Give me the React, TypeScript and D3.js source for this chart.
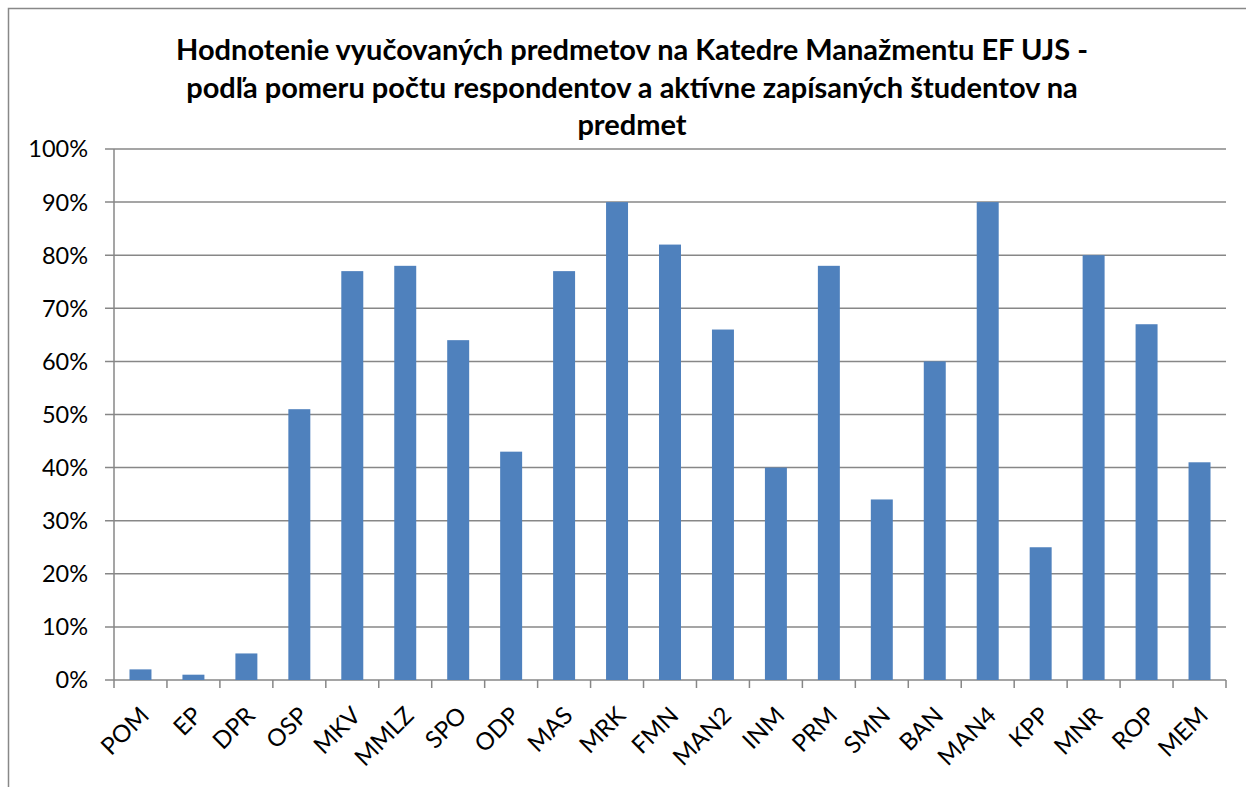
import * as d3 from 'd3';

const categories = ['POM', 'EP', 'DPR', 'OSP', 'MKV', 'MMLZ', 'SPO', 'ODP', 'MAS', 'MRK', 'FMN', 'MAN2', 'INM', 'PRM', 'SMN', 'BAN', 'MAN4', 'KPP', 'MNR', 'ROP', 'MEM'];
const values = [2, 1, 5, 51, 77, 78, 64, 43, 77, 90, 82, 66, 40, 78, 34, 60, 90, 25, 80, 67, 41];
const yTicks = [0, 10, 20, 30, 40, 50, 60, 70, 80, 90, 100];
const titleLines = [
  'Hodnotenie vyučovaných predmetov na Katedre Manažmentu EF UJS -',
  'podľa pomeru počtu respondentov a aktívne zapísaných študentov na',
  'predmet',
];

const width = 1246;
const height = 787;
const plot = { left: 114, right: 1226, top: 149, bottom: 680 };
const grid = '#878787';
const font = 'Lato, Calibri, sans-serif';

const App = () => {
  const x = d3
    .scaleBand<string>()
    .domain(categories)
    .range([plot.left, plot.right])
    .paddingInner(0.585)
    .paddingOuter(0.2925);
  const y = d3.scaleLinear().domain([0, 100]).range([plot.bottom, plot.top]);
  const step = x.step();
  const bounds = d3.range(categories.length + 1).map((i) => plot.left + i * step);

  return (
    <svg width={width} height={height} style={{ position: 'absolute', left: 0, top: 0, display: 'block' }}>
      <rect x={0} y={0} width={width} height={height} fill="#fff" />
      <rect x={8.5} y={8.5} width={width + 20} height={height + 20} fill="none" stroke="#888" strokeWidth={1.5} />

      {titleLines.map((t, i) => (
        <text key={i} x={632} y={60 + i * 37.5} textAnchor="middle" fontFamily={font} fontWeight={700} fontSize={29} fill="#000">
          {t}
        </text>
      ))}

      {yTicks.map((t) => (
        <g key={t}>
          <line x1={plot.left - 9} x2={plot.right} y1={y(t)} y2={y(t)} stroke={grid} strokeWidth={1.5} />
          <text x={88} y={y(t)} dy="0.36em" textAnchor="end" fontFamily={font} fontSize={23.5} fill="#000">
            {t}%
          </text>
        </g>
      ))}

      <line x1={plot.left} x2={plot.left} y1={plot.top} y2={plot.bottom} stroke={grid} strokeWidth={1.5} />
      {bounds.map((b, i) => (
        <line key={i} x1={b} x2={b} y1={plot.bottom} y2={plot.bottom + 8} stroke={grid} strokeWidth={1.5} />
      ))}

      {categories.map((c, i) => (
        <rect key={c} x={x(c)} y={y(values[i])} width={x.bandwidth()} height={y(0) - y(values[i])} fill="#4F81BD" />
      ))}

      {categories.map((c) => {
        const cx = (x(c) ?? 0) + x.bandwidth() / 2;
        return (
          <text
            key={c}
            transform={`translate(${cx + 10},${plot.bottom + 37}) rotate(-45)`}
            textAnchor="end"
            fontFamily={font}
            fontSize={24}
            fill="#000"
          >
            {c}
          </text>
        );
      })}
    </svg>
  );
};

export default App;
